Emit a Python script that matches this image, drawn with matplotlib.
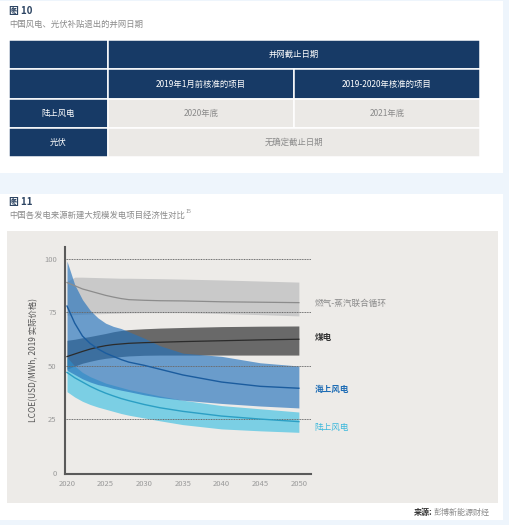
import matplotlib
matplotlib.use("Agg")
import matplotlib.pyplot as plt
from matplotlib.patches import Rectangle

plt.rcParams['font.family'] = ['Noto Sans CJK SC', 'DejaVu Sans']

W, H = 509, 525

# ---- figure 10: table ----
tab_header = "并网截止日期"
tab_cols = ["2019年1月前核准的项目", "2019-2020年核准的项目"]
tab_rows = ["陆上风电", "光伏"]
tab_onshore = ["2020年底", "2021年底"]
tab_pv = "无确定截止日期"

# ---- figure 11: LCOE ranges ----
years = [2020, 2021, 2022, 2023, 2024, 2025, 2026, 2027, 2028, 2030, 2032, 2035, 2040, 2045, 2050]

gas_mid = [89, 87.5, 86, 85, 84, 83, 82.2, 81.5, 81, 80.7, 80.5, 80.4, 80, 79.8, 79.6]
gas_hi = [89.5, 91.5, 91.5, 91.4, 91.3, 91.2, 91.1, 91, 91, 90.9, 90.8, 90.6, 90.2, 89.7, 89.2]
gas_lo = [73.8, 74, 74.2, 74.3, 74.4, 74.5, 74.6, 74.7, 74.8, 74.9, 74.9, 74.9, 74.5, 74, 73.4]

coal_mid = [54.4, 55.6, 56.8, 57.9, 58.8, 59.5, 60, 60.3, 60.6, 60.9, 61.1, 61.4, 61.8, 62.2, 62.5]
coal_hi = [62, 62.5, 63.2, 63.8, 64.5, 65.2, 66, 66.6, 67, 67.4, 67.7, 68, 68.4, 68.6, 68.7]
coal_lo = [48.5, 50, 51.3, 52.2, 53, 53.6, 54, 54.4, 54.7, 55, 55.1, 55.1, 55.1, 55.1, 55.1]

off_mid = [78, 70, 64, 60.5, 58, 56, 54.5, 53, 51.8, 50.3, 48.5, 45.8, 42.5, 40.5, 39.6]
off_hi = [99, 88, 81, 76, 72.5, 70, 68.5, 67.5, 66, 63, 59.5, 56, 54.5, 51.5, 50]
off_lo = [48, 46, 44, 42.5, 41.3, 40.5, 39.5, 38.7, 38, 36.5, 35.3, 34, 32.5, 31.3, 30.4]

on_mid = [47, 44.5, 42.5, 40.5, 38.8, 37.3, 36, 34.8, 33.8, 32, 30.5, 28.8, 26.6, 25.2, 24]
on_hi = [54, 50, 47, 45, 43.5, 42, 41, 40, 39, 37.5, 36, 34, 31.5, 30, 28.5]
on_lo = [38, 35.5, 33.5, 32, 30.8, 29.8, 28.8, 27.8, 27, 25.7, 24.4, 22.6, 20.6, 19.7, 19]

labels = ["燃气-蒸汽联合循环", "煤电", "海上风电", "陆上风电"]
label_y = [79.4, 63.1, 39.3, 21.5]
label_colors = ["#8a8a8a", "#333333", "#1f6db5", "#3bb8dc"]
label_weights = ["normal", "bold", "bold", "normal"]

navy = "#173a66"
cellgray = "#ebe9e6"

fig = plt.figure(figsize=(W / 100, H / 100), dpi=100)
fig.patch.set_facecolor("#eef5fc")


def box(x0, y0, x1, y1, **kw):
    fig.add_artist(Rectangle((x0 / W, 1 - y1 / H), (x1 - x0) / W, (y1 - y0) / H,
                             transform=fig.transFigure, zorder=-10, **kw))


box(0, 1, 503, 173, fc="white", ec="none")
box(0, 194, 503, 520, fc="white", ec="none")
box(7, 231, 498, 503, fc="#edebe8", ec="none")

fig.text(9 / W, 1 - 11 / H, "图 10", fontsize=7, weight="bold", color="#2d4563", va="center")
fig.text(9 / W, 1 - 24 / H, "中国风电、光伏补贴退出的并网日期", fontsize=6, color="#8a8a8a", va="center")
fig.text(9 / W, 1 - 202 / H, "图 11", fontsize=7, weight="bold", color="#2d4563", va="center")
sub = fig.text(9 / W, 1 - 215 / H, "中国各发电来源新建大规模发电项目经济性对比",
               fontsize=6, color="#8a8a8a", va="center")

# ---- table ----
tax = fig.add_axes([9 / W, 1 - 157 / H, 471 / W, 117 / H])
tax.set_xlim(9, 480)
tax.set_ylim(157, 40)
tax.axis("off")
cx = [9, 108, 294, 480]
ry = [40, 69, 99, 128, 157]


def cell(c0, c1, r, fc, text="", tc="white"):
    x0, x1 = cx[c0], cx[c1]
    y0, y1 = ry[r], ry[r + 1]
    tax.add_patch(Rectangle((x0, y0), x1 - x0, y1 - y0, fc=fc, ec="white", lw=1.1))
    if text:
        tax.text((x0 + x1) / 2, (y0 + y1) / 2, text, ha="center", va="center",
                 fontsize=6, color=tc)


cell(0, 1, 0, navy)
cell(1, 3, 0, navy, tab_header)
cell(0, 1, 1, navy)
cell(1, 2, 1, navy, tab_cols[0])
cell(2, 3, 1, navy, tab_cols[1])
cell(0, 1, 2, navy, tab_rows[0])
cell(1, 2, 2, cellgray, tab_onshore[0], "#8a8a8a")
cell(2, 3, 2, cellgray, tab_onshore[1], "#8a8a8a")
cell(0, 1, 3, navy, tab_rows[1])
cell(1, 3, 3, cellgray, tab_pv, "#8a8a8a")

# ---- chart ----
ax = fig.add_axes([65 / W, 1 - 474 / H, 246 / W, 227 / H])
ax.patch.set_alpha(0)
ax.set_xlim(2019.74, 2051.57)
ax.set_ylim(-0.47, 105.6)

ax.fill_between(years, gas_lo, gas_hi, color="#c9c9c9", lw=0, zorder=1)
ax.fill_between(years, coal_lo, coal_hi, color="#696969", lw=0, zorder=1.1)
ax.fill_between(years, on_lo, on_hi, color="#3ec0e2", alpha=0.65, lw=0, zorder=1.2)
ax.fill_between(years, off_lo, off_hi, color="#2673bc", alpha=0.66, lw=0, zorder=1.3)

ax.plot(years, gas_mid, color="#8c8c8c", lw=0.9, zorder=3)
ax.plot(years, coal_mid, color="#2b2b2b", lw=0.9, zorder=3)
ax.plot(years, off_mid, color="#1b5c9e", lw=1, zorder=3)
ax.plot(years, on_mid, color="#2b9fc4", lw=1, zorder=3)

for yv in [25, 50, 75, 100]:
    ax.axhline(yv, color="#6a6a6a", lw=0.7, ls=(0, (1, 0.7)), zorder=2.5)

for s in ["top", "right"]:
    ax.spines[s].set_visible(False)
for s in ["left", "bottom"]:
    ax.spines[s].set_color("#5a5a5a")
    ax.spines[s].set_linewidth(1.5)
    ax.spines[s].set_zorder(4)

ax.set_yticks([0, 25, 50, 75, 100])
ax.set_xticks([2020, 2025, 2030, 2035, 2040, 2045, 2050])
ax.tick_params(length=0, labelsize=5.5, labelcolor="#9a9a9a")
ax.tick_params(axis="y", pad=6)
ax.tick_params(axis="x", pad=4.5)
ax.set_ylabel("LCOE(USD/MWh, 2019 实际价格)", fontsize=6, color="#555555", labelpad=4)

for name, yv, c, w in zip(labels, label_y, label_colors, label_weights):
    ax.text(2052, yv, name, fontsize=6.2, color=c, weight=w, va="center", ha="left")

# superscript and source need text extents
r = fig.canvas.get_renderer()
bb = sub.get_window_extent(r)
fig.text((bb.x1 + 1) / W, 1 - 211 / H, "15", fontsize=3.8, color="#8a8a8a", va="center")

src = fig.text(434 / W, 1 - 512 / H, "彭博新能源财经", fontsize=5.8, color="#8a8a8a", va="center")
fig.text(433 / W, 1 - 512 / H, "来源:", fontsize=5.8, color="#333333", weight="bold",
         va="center", ha="right")

fig.savefig("out.png", dpi=100, facecolor=fig.get_facecolor())
